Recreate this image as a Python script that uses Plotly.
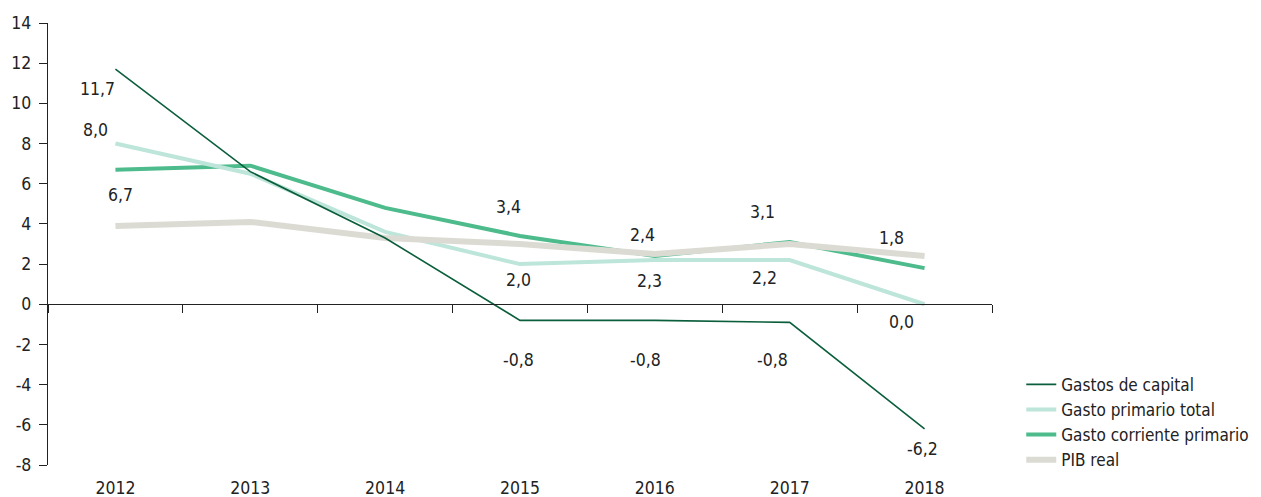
import plotly.graph_objects as go

years = ["2012", "2013", "2014", "2015", "2016", "2017", "2018"]
gastos_capital = [11.7, 6.6, 3.3, -0.8, -0.8, -0.9, -6.2]
gasto_primario_total = [8.0, 6.5, 3.6, 2.0, 2.2, 2.2, 0.0]
gasto_corriente_primario = [6.7, 6.9, 4.8, 3.4, 2.4, 3.1, 1.8]
pib_real = [3.9, 4.1, 3.3, 3.0, 2.5, 3.0, 2.4]

y_ticks = [14, 12, 10, 8, 6, 4, 2, 0, -2, -4, -6, -8]

# labels: (series key, year index, label value, dx px, dy px up)
labels = [
    ("cap", 0, 11.7, -18, -20), ("tot", 0, 8.0, -20, 14), ("cor", 0, 6.7, 5, -25),
    ("cor", 3, 3.4, -12, 29), ("tot", 3, 2.0, -2, -16), ("cap", 3, -0.8, -2, -40),
    ("cor", 4, 2.4, -12, 21), ("tot", 4, 2.3, -5, -21), ("cap", 4, -0.8, -9, -40),
    ("cor", 5, 3.1, -27, 30), ("tot", 5, 2.2, -25, -18), ("cap", 5, -0.8, -17, -38),
    ("cor", 6, 1.8, -33, 30), ("tot", 6, 0.0, -23, -18), ("cap", 6, -6.2, -2, -20),
]
series = {"cap": gastos_capital, "tot": gasto_primario_total,
          "cor": gasto_corriente_primario, "pib": pib_real}

FONT = "DejaVu Sans Condensed, Liberation Sans Narrow, sans-serif"
FS = 17.5
LFS = 17

fig = go.Figure()
fig.add_trace(go.Scatter(x=years, y=gasto_corriente_primario, mode="lines",
                         name="Gasto corriente primario", legendrank=3,
                         line=dict(color="#4dbb8c", width=4)))
fig.add_trace(go.Scatter(x=years, y=gasto_primario_total, mode="lines",
                         name="Gasto primario total", legendrank=2,
                         line=dict(color="#bde5da", width=4)))
fig.add_trace(go.Scatter(x=years, y=pib_real, mode="lines",
                         name="PIB real", legendrank=4,
                         line=dict(color="#dcdbd3", width=6)))
fig.add_trace(go.Scatter(x=years, y=gastos_capital, mode="lines",
                         name="Gastos de capital", legendrank=1,
                         line=dict(color="#0b5e3c", width=1.6)))
# invisible helper trace for the zero-line axis
fig.add_trace(go.Scatter(x=years, y=[None] * len(years), mode="lines",
                         xaxis="x2", showlegend=False, hoverinfo="skip"))

for key, i, val, dx, dy in labels:
    fig.add_annotation(x=i, y=series[key][i], xref="x", yref="y",
                       text=f"{val:.1f}".replace(".", ","),
                       showarrow=False, xshift=dx, yshift=dy,
                       font=dict(family=FONT, size=FS, color="#222222"))

y_min, y_max = -8, 14
fig.update_layout(
    width=1253, height=489,
    margin=dict(l=40, r=269, t=15, b=32, autoexpand=False),
    paper_bgcolor="white", plot_bgcolor="white",
    font=dict(family=FONT, size=FS, color="#222222"),
    xaxis=dict(type="category", range=[-0.5, 6.5], showline=False,
               ticks="outside", ticklen=7, tickcolor="rgba(0,0,0,0)",
               showgrid=False, zeroline=False, tickfont=dict(size=FS),
               automargin=False),
    xaxis2=dict(type="category", matches="x", overlaying="x", anchor="free",
                position=(0 - y_min) / (y_max - y_min), side="bottom",
                showline=True, linecolor="#222222", linewidth=1.3,
                ticks="outside", ticklen=8, tickcolor="#222222", tickwidth=1.3,
                tickson="boundaries", showticklabels=False, showgrid=False,
                zeroline=False),
    yaxis=dict(range=[y_min, y_max], tickvals=y_ticks,
               ticktext=[str(v) for v in y_ticks], showgrid=False,
               zeroline=False, showline=True, linecolor="#222222", linewidth=1.3,
               ticks="outside", ticklen=8, tickcolor="#222222", tickwidth=1.3,
               ticklabelstandoff=4,
               tickfont=dict(size=FS), automargin=False),
    legend=dict(x=1.031, y=-0.029, xanchor="left", yanchor="bottom",
                font=dict(size=LFS), tracegroupgap=0, itemwidth=30,
                bgcolor="rgba(0,0,0,0)"),
    showlegend=True,
)

fig.write_html("out.html")
